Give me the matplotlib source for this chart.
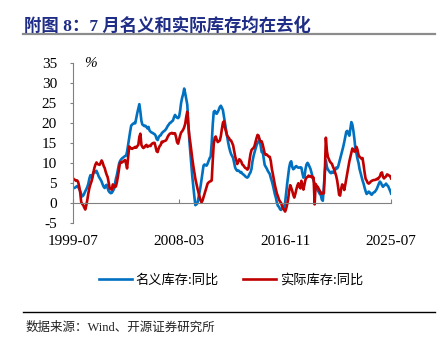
import matplotlib
matplotlib.use("Agg")
import matplotlib.pyplot as plt
import pandas as pd

plt.rcParams['font.family'] = ['Liberation Serif', 'Noto Sans CJK SC', 'DejaVu Sans']
plt.rcParams['axes.unicode_minus'] = False

# monthly values, 1999-07 .. 2025-07, one row per calendar year
nominal = [
    3.6, 3.7, 3.8, 4.0, 4.2, 3.9,
    3.5, 2.9, 2.2, 1.6, 1.8, 2.3, 2.9, 3.4, 4.0, 4.8, 6.1, 6.9,
    6.4, 6.8, 7.6, 7.9, 7.6, 8.0, 7.4, 6.7, 6.2, 5.8, 5.3, 4.6,
    4.0, 3.7, 4.3, 4.5, 3.6, 2.9, 2.6, 2.4, 2.5, 2.9, 3.4, 4.6,
    6.0, 7.0, 8.3, 9.6, 10.4, 10.8, 11.1, 11.3, 11.5, 11.7, 11.8, 12.8,
    14.5, 16.2, 17.8, 19.3, 19.6, 19.8, 20.0, 19.9, 21.2, 22.5, 23.6, 24.7,
    22.8, 20.5, 19.6, 19.4, 19.2, 19.3, 19.0, 18.6, 19.0, 18.1, 17.8, 17.6,
    17.5, 17.3, 17.2, 16.8, 16.0, 15.7, 16.4, 16.8, 16.9, 17.4, 17.7, 17.9,
    18.1, 18.4, 18.8, 19.3, 19.6, 20.0, 20.1, 20.4, 20.6, 21.4, 22.0, 21.6,
    21.3, 21.2, 21.5, 23.0, 25.0, 26.3, 27.2, 28.6, 27.4, 26.0, 24.6, 20.0,
    15.7, 12.5, 9.5, 6.5, 4.0, 1.5, -0.6, -0.4, -0.1, 1.2, 2.6, 4.0,
    5.8, 7.5, 9.3, 9.6, 9.4, 9.3, 9.8, 10.5, 11.2, 11.6, 15.0, 19.5,
    22.8, 23.0, 22.4, 22.3, 22.8, 23.3, 24.0, 24.3, 23.8, 23.2, 21.6, 20.0,
    18.4, 17.0, 15.3, 14.0, 13.0, 12.2, 11.7, 11.2, 10.0, 8.8, 8.3, 8.0,
    8.1, 7.9, 7.6, 7.7, 7.3, 7.1, 6.9, 6.6, 6.4, 6.3, 6.6, 7.2,
    7.6, 8.5, 10.3, 11.6, 12.6, 13.5, 14.4, 15.0, 15.5, 15.9, 14.3, 12.7,
    12.8, 11.0, 9.5, 9.0, 8.6, 8.0, 7.6, 7.2, 6.2, 5.4, 4.4, 3.3,
    2.1, 1.2, 0.0, -0.8, -1.0, -1.6, -1.8, -1.4, -1.0, -1.1, 0.1, 2.5,
    4.8, 6.8, 8.8, 10.0, 10.4, 9.0, 8.4, 8.6, 9.0, 9.2, 8.9, 8.8,
    8.8, 8.9, 8.8, 7.4, 6.3, 6.4, 8.4, 9.6, 10.0, 9.6, 9.0, 8.4,
    7.4, 6.5, 5.5, 4.8, 4.3, 3.6, 3.1, 2.7, 2.2, 2.0, 0.8, 0.5,
    4.0, 8.0, 10.6, 9.0, 8.3, 8.0, 7.6, 7.4, 7.8, 7.5, 7.6, 8.2,
    8.8, 8.6, 9.0, 10.0, 11.0, 12.0, 13.0, 14.0, 15.2, 16.5, 17.8, 18.0,
    17.3, 16.8, 18.5, 20.2, 19.6, 18.0, 16.0, 13.4, 12.3, 11.0, 10.0, 8.5,
    7.5, 6.6, 5.6, 4.8, 3.8, 2.9, 2.2, 2.5, 2.8, 2.6, 2.2, 2.0,
    2.4, 2.6, 2.7, 3.1, 3.5, 4.2, 4.8, 5.3, 5.0, 4.4, 4.0, 4.3,
    4.5, 4.8, 4.4, 4.2, 3.6, 3.0, 2.3,
]

real = [
    6.1, 5.9, 5.7, 5.5, 5.6, 5.2,
    4.1, 2.5, 0.2, -0.3, -0.6, -1.2, -1.7, -0.6, 0.8, 2.4, 3.7, 4.6,
    5.3, 6.3, 7.6, 8.8, 9.6, 10.1, 9.7, 9.6, 9.5, 10.0, 10.6, 10.1,
    9.2, 8.7, 7.8, 7.0, 6.4, 4.9, 3.6, 3.4, 3.3, 4.6, 4.3, 3.9,
    4.1, 5.2, 6.5, 8.2, 9.9, 10.2, 10.1, 10.3, 10.5, 10.7, 9.8, 8.6,
    11.5, 14.1, 13.8, 13.6, 13.5, 13.7, 13.8, 14.0, 13.8, 14.2, 14.5, 16.5,
    17.3, 14.5, 14.0, 13.7, 13.9, 14.3, 14.5, 14.0, 14.2, 14.3, 14.2, 14.7,
    14.9, 15.0, 15.0, 14.0, 12.9, 12.7, 13.6, 14.2, 14.5, 15.3, 15.2, 15.4,
    15.5, 15.6, 16.0, 16.6, 17.0, 17.3, 17.4, 17.5, 17.3, 17.4, 17.4, 16.5,
    15.2, 14.8, 15.8, 16.8, 17.6, 17.9, 18.3, 18.9, 19.8, 21.5, 22.8, 19.5,
    16.8, 15.0, 13.0, 11.0, 9.2, 7.6, 6.0, 4.8, 3.6, 2.6, 1.5, 0.6,
    0.1, 0.6, 1.4, 2.3, 3.2, 4.1, 4.8, 5.1, 5.3, 5.4, 5.6, 10.5,
    14.8, 16.3, 16.6, 15.8, 15.2, 15.4, 15.6, 16.7, 18.5, 20.0, 20.4, 18.8,
    17.8, 16.9, 16.5, 16.2, 15.7, 15.6, 15.0, 14.4, 13.0, 11.6, 10.7, 9.7,
    10.2, 10.9, 10.7, 10.3, 9.6, 9.4, 9.0, 8.7, 8.6, 8.3, 8.6, 10.5,
    12.2, 13.2, 13.5, 13.7, 14.2, 15.2, 16.2, 17.0, 16.8, 15.8, 15.3, 15.4,
    14.6, 13.5, 12.4, 12.0, 12.1, 11.8, 11.6, 11.5, 10.4, 8.5, 7.2, 5.8,
    4.4, 3.3, 2.3, 1.6, 0.8, 0.3, 0.0, -0.8, -1.4, -1.8, -2.2, -1.5,
    -0.4, 1.0, 3.0, 4.4, 3.8, 3.0, 2.0, 1.3, 2.2, 3.3, 4.3, 4.9,
    4.0, 3.6, 5.5, 4.5, 3.3, 4.6, 5.8, 6.3, 6.5, 6.8, 6.6, 6.5,
    6.7, 6.2, 6.3, -0.4, 4.7, 4.2, 4.0, 3.5, 3.0, 2.3, 2.5, 2.3,
    2.4, 8.0, 16.3, 13.0, 11.5, 10.9, 10.3, 10.0, 9.7, 9.0, 8.4, 7.6,
    6.8, 5.6, 4.0, 2.0, 1.8, 3.5, 4.6, 4.2, 3.2, 4.5, 6.0, 7.6,
    9.0, 10.4, 11.4, 12.5, 13.6, 13.1, 12.8, 13.0, 14.0, 13.3, 12.0, 11.5,
    11.3, 11.0, 11.2, 9.5, 7.6, 6.0, 5.6, 5.0, 4.8, 5.0, 5.3, 5.5,
    5.6, 5.7, 5.7, 5.8, 6.0, 5.9, 6.3, 6.6, 7.4, 7.6, 6.5, 6.1,
    6.4, 6.6, 7.1, 7.0, 6.8, 6.7, 6.1,
]

dates = pd.date_range("1999-07-01", periods=len(nominal), freq="MS")
tick_labels = ["1999-07", "2008-03", "2016-11", "2025-07"]
series_names = ["名义库存:同比", "实际库存:同比"]

fig = plt.figure(figsize=(4.48, 3.53), dpi=100)
ax = fig.add_axes([0.163, 0.369, 0.71, 0.4525])

ax.plot(dates, nominal, color="#0070C0", lw=1.9, label=series_names[0])
ax.plot(dates, real, color="#C00000", lw=1.9, label=series_names[1])

ax.set_ylim(-5, 35)
ax.set_yticks(range(-5, 36, 5))
ax.set_xlim(pd.Timestamp("1999-07-01"), pd.Timestamp("2025-07-01"))
ax.set_xticks([pd.Timestamp(t + "-01") for t in tick_labels])
ax.set_xticklabels(tick_labels)

for s in ["top", "right"]:
    ax.spines[s].set_visible(False)
ax.spines["left"].set_color("#808080")
ax.spines["bottom"].set_color("#808080")
ax.spines["bottom"].set_position(("data", 0))
ax.tick_params(axis="y", length=2.5, color="#808080", labelsize=11, pad=9)
ax.tick_params(axis="x", direction="in", length=3, color="#808080", labelsize=11, pad=23)

ax.text(0.035, 35, "%", fontsize=11, style="italic", va="center", ha="left",
        transform=ax.get_yaxis_transform())

fig.text(0.053, 0.925, "附图 8：7 月名义和实际库存均在去化", fontsize=12.5,
         fontweight="bold", color="#1F2D86", va="center", ha="left")
fig.add_artist(plt.Line2D([0.052, 0.972], [0.904, 0.904], color="#8C8C8C", lw=1.6))

fig.legend(loc="center", bbox_to_anchor=(0.515, 0.207), ncol=2, frameon=False,
           prop={"family": "Noto Sans CJK SC", "size": 9.5}, handlelength=2.5,
           columnspacing=1.8, handletextpad=0.3)

fig.add_artist(plt.Line2D([0.052, 0.972], [0.117, 0.117], color="black", lw=1.0))
fig.text(0.056, 0.073, "数据来源：Wind、开源证券研究所", fontsize=9,
         color="#222222", va="center", ha="left")

fig.savefig("out.png", dpi=100)
